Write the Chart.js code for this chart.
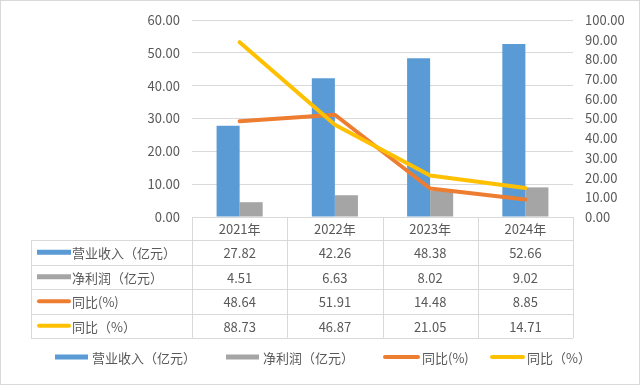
<!DOCTYPE html>
<html>
<head>
<meta charset="utf-8">
<script src="https://cdn.jsdelivr.net/npm/chart.js@4.4.0/dist/chart.umd.min.js"></script>
<style>
html,body{margin:0;padding:0;background:#fff;}
#wrap{width:640px;height:385px;position:relative;}
</style>
</head>
<body>
<div id="wrap"><canvas id="c" width="640" height="385"></canvas></div>
<script>
const categories = ['2021年', '2022年', '2023年', '2024年'];
const revenue = [27.82, 42.26, 48.38, 52.66];
const profit = [4.51, 6.63, 8.02, 9.02];
const yoyA = [48.64, 51.91, 14.48, 8.85];
const yoyB = [88.73, 46.87, 21.05, 14.71];
const seriesNames = ['营业收入（亿元）', '净利润（亿元）', '同比(%)', '同比（%）'];
const colors = ['#5B9BD5', '#A5A5A5', '#ED7D31', '#FFC000'];
const textColor = '#595959';
const gridColor = '#D9D9D9';
const FONT = '"Noto Sans CJK SC", "Noto Sans", sans-serif';

Chart.defaults.font.family = FONT;
Chart.defaults.font.size = 13;
Chart.defaults.color = textColor;

const tablePlugin = {
  id: 'tablePlugin',
  afterDraw(chart) {
    const ctx = chart.ctx;
    const ca = chart.chartArea;
    const n = categories.length;
    const w = (ca.right - ca.left) / n;
    const tLeft = 31;
    const rows = [ca.bottom, 240, 264.5, 289, 313.5, 338];
    ctx.save();
    ctx.strokeStyle = gridColor;
    ctx.lineWidth = 1;
    // outer border
    ctx.strokeRect(0.5, 0.5, 639, 384);
    ctx.beginPath();
    // horizontal lines
    ctx.moveTo(ca.left, Math.round(rows[0]) + 0.5);
    ctx.lineTo(ca.right, Math.round(rows[0]) + 0.5);
    for (let i = 1; i < rows.length; i++) {
      const y = Math.round(rows[i]) + 0.5;
      ctx.moveTo(tLeft, y);
      ctx.lineTo(ca.right, y);
    }
    // vertical lines
    ctx.moveTo(tLeft + 0.5, rows[1]);
    ctx.lineTo(tLeft + 0.5, rows[5]);
    for (let i = 0; i <= n; i++) {
      const x = Math.round(ca.left + i * w) + 0.5;
      ctx.moveTo(x, rows[0]);
      ctx.lineTo(x, rows[5]);
    }
    ctx.stroke();

    ctx.fillStyle = textColor;
    ctx.font = '13px ' + FONT;
    ctx.textBaseline = 'middle';
    ctx.textAlign = 'center';
    const xs = chart.scales.x;
    categories.forEach((c, i) => {
      ctx.fillText(c, xs.getPixelForValue(i), (rows[0] + rows[1]) / 2 + 1);
    });
    const data = [revenue, profit, yoyA, yoyB];
    data.forEach((arr, r) => {
      const yc = (rows[r + 1] + rows[r + 2]) / 2 + 1;
      arr.forEach((v, i) => {
        ctx.fillStyle = textColor;
        ctx.textAlign = 'center';
        ctx.fillText(v.toFixed(2), xs.getPixelForValue(i), yc);
      });
      drawKey(ctx, r, 37, 71, yc - 1);
      ctx.fillStyle = textColor;
      ctx.textAlign = 'left';
      ctx.fillText(seriesNames[r], 72, yc);
    });

    // bottom legend
    const leg = [[55, 88, 92], [226, 259, 263], [383, 420, 422], [490, 525, 527]];
    leg.forEach((l, r) => {
      drawKey(ctx, r, l[0], l[1], 357);
      ctx.fillStyle = textColor;
      ctx.textAlign = 'left';
      ctx.fillText(seriesNames[r], l[2], 358);
    });
    ctx.restore();
  }
};

function drawKey(ctx, r, x0, x1, y) {
  if (r < 2) {
    ctx.fillStyle = colors[r];
    ctx.fillRect(x0, y - 2.5, x1 - x0, 5);
  } else {
    ctx.strokeStyle = colors[r];
    ctx.lineWidth = 4;
    ctx.lineCap = 'round';
    ctx.beginPath();
    ctx.moveTo(x0 + 2, y);
    ctx.lineTo(x1 - 2, y);
    ctx.stroke();
  }
}

new Chart(document.getElementById('c'), {
  type: 'bar',
  data: {
    labels: categories,
    datasets: [
      { type: 'line', label: seriesNames[3], data: yoyB, yAxisID: 'y1', borderColor: colors[3], backgroundColor: colors[3], borderWidth: 4, pointRadius: 0, tension: 0, order: 0, borderCapStyle: 'round', borderJoinStyle: 'round' },
      { type: 'line', label: seriesNames[2], data: yoyA, yAxisID: 'y1', borderColor: colors[2], backgroundColor: colors[2], borderWidth: 4, pointRadius: 0, tension: 0, order: 1, borderCapStyle: 'round', borderJoinStyle: 'round' },
      { label: seriesNames[0], data: revenue, yAxisID: 'y', backgroundColor: colors[0], categoryPercentage: 0.484, barPercentage: 1, order: 2 },
      { label: seriesNames[1], data: profit, yAxisID: 'y', backgroundColor: colors[1], categoryPercentage: 0.484, barPercentage: 1, order: 2 }
    ]
  },
  options: {
    responsive: false,
    animation: false,
    layout: { padding: { top: 20, left: 0, right: 0, bottom: 0 } },
    plugins: { legend: { display: false }, tooltip: { enabled: false } },
    scales: {
      x: {
        grid: { display: false },
        border: { display: false },
        ticks: { display: false },
        afterFit(s) { s.height = 168; }
      },
      y: {
        position: 'left',
        min: 0, max: 60,
        ticks: { stepSize: 10, padding: 12, callback: v => v.toFixed(2), color: textColor, font: { size: 13 } },
        grid: { color: gridColor, drawTicks: false, lineWidth: 1 },
        border: { display: false },
        afterFit(s) { s.width = 192; }
      },
      y1: {
        position: 'right',
        min: 0, max: 100,
        ticks: { stepSize: 10, padding: 12, callback: v => v.toFixed(2), color: textColor, font: { size: 13 } },
        grid: { display: false, drawTicks: false },
        border: { display: false },
        afterFit(s) { s.width = 67; }
      }
    }
  },
  plugins: [tablePlugin]
});
</script>
</body>
</html>
